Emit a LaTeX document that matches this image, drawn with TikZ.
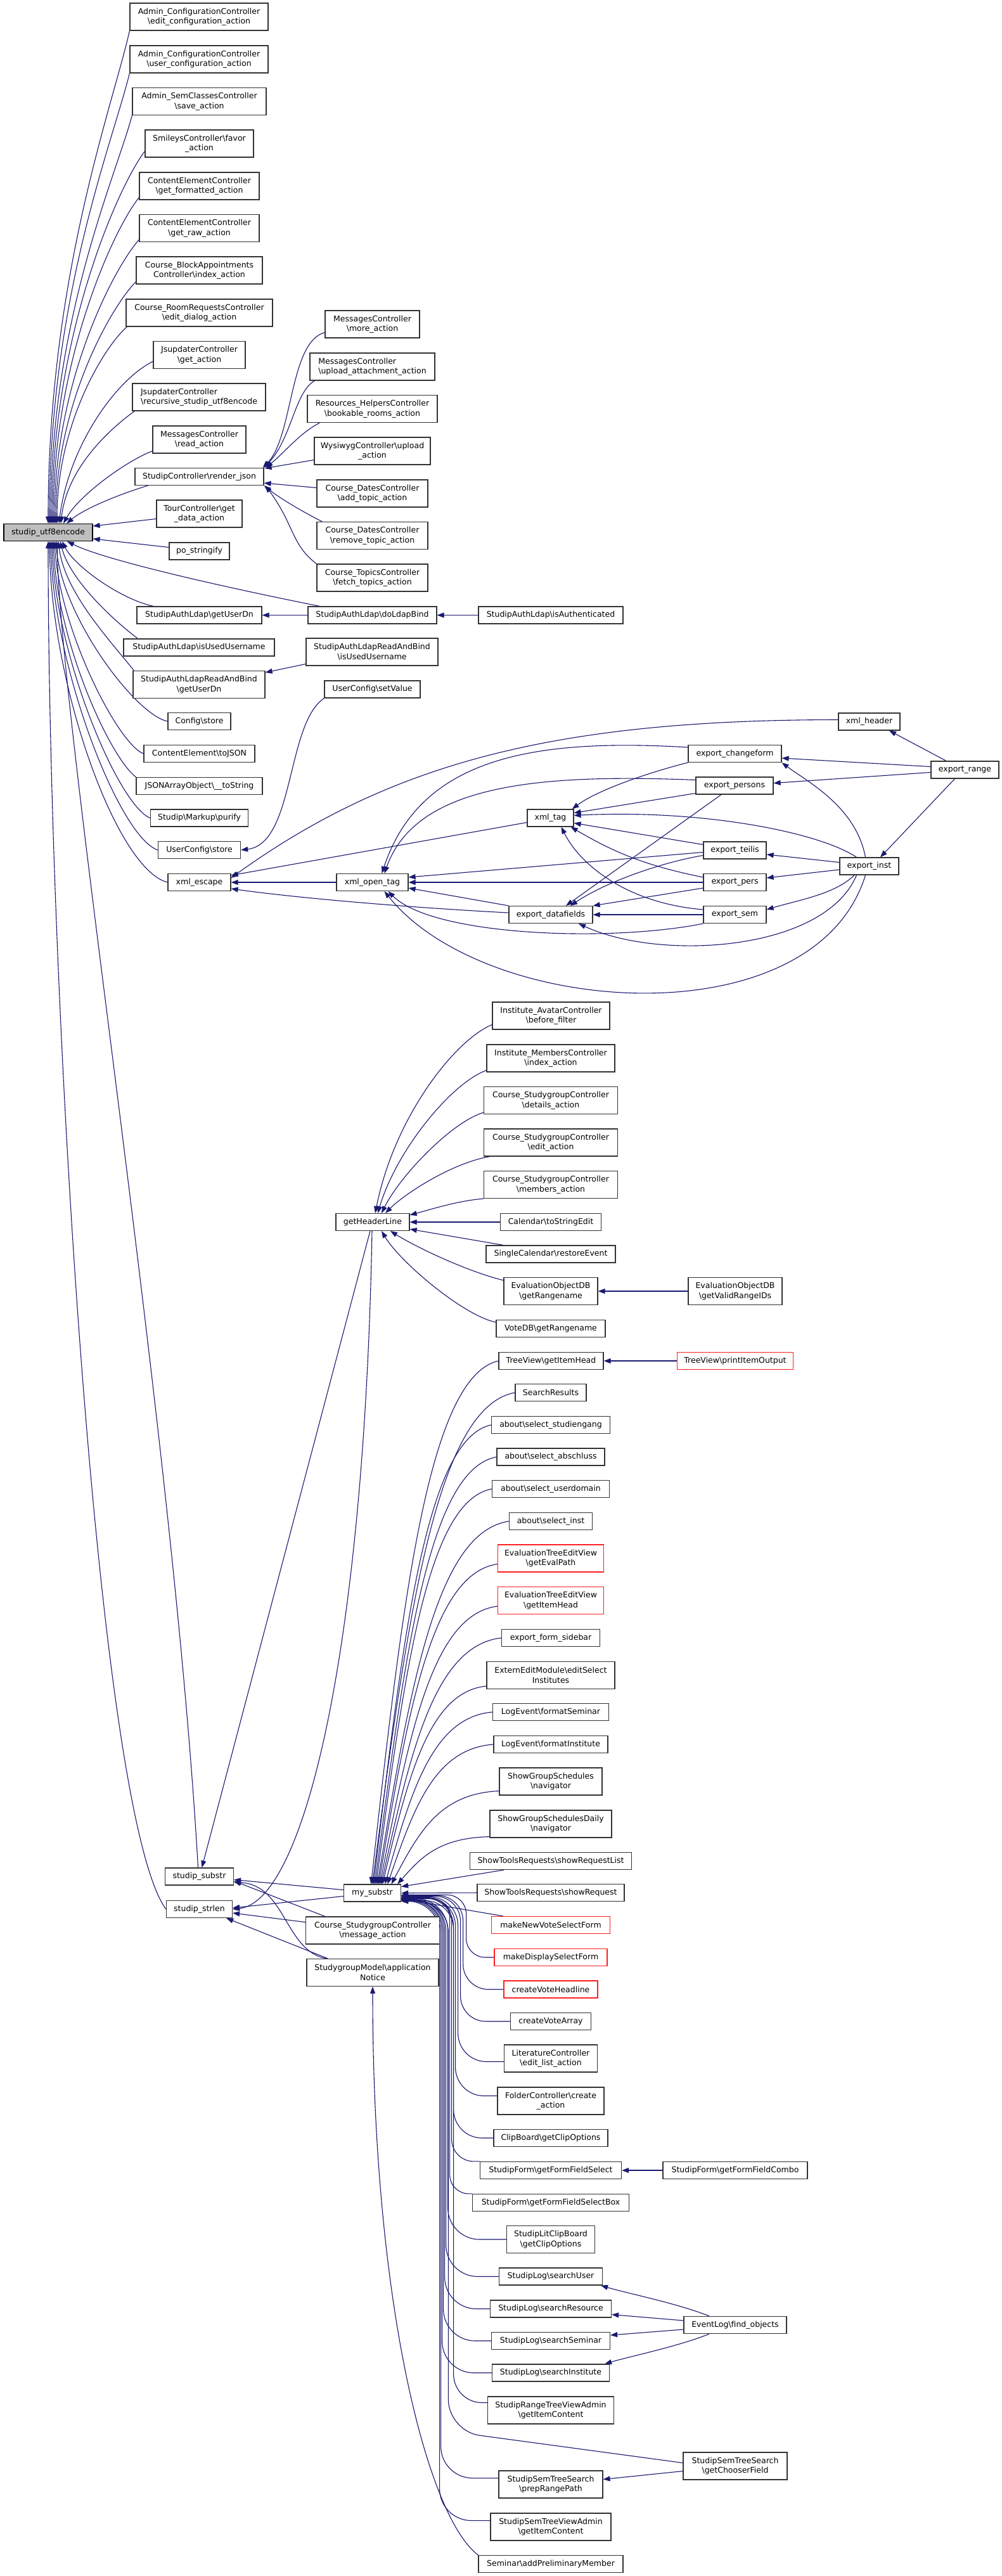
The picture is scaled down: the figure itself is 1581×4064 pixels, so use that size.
\documentclass[tikz,border=0pt]{standalone}
\usepackage{fontspec}
\setmainfont{DejaVu Sans}
\usetikzlibrary{arrows.meta}
\definecolor{edgeblue}{HTML}{191970}
\definecolor{nodeborder}{HTML}{333333}
\definecolor{rootgrey}{HTML}{BFBFBF}
\definecolor{nodered}{HTML}{FF2020}
\newcommand\bs{\textbackslash}
\newcommand\fs{\fontsize{12.5}{15.5}\selectfont}
\pgfdeclarelayer{back}
\pgfdeclarelayer{edges}
\pgfsetlayers{back,edges,main}
\tikzset{
  box/.style={draw=nodeborder, line width=1.2pt, fill=white, rectangle, inner sep=2pt,
    align=center, font=\fs, minimum height=27pt},
  two/.style={minimum height=43pt},
  redbox/.style={draw=nodered},
  rootbox/.style={fill=rootgrey, draw=black},
  dep/.style={draw=edgeblue, line width=1.1pt, -{Triangle[length=11pt,width=8pt]}},
}
\begin{document}
\begin{tikzpicture}[x=1pt,y=-1pt]
\begin{pgfonlayer}{back}
\fill[white] (0,0) rectangle (1581,4064);
\end{pgfonlayer}
\useasboundingbox (0,0) rectangle (1581,4064);

% ---------- column 1 (top) ----------
\node[box,two,minimum width=218pt] (aEdit) at (314,26.5) {Admin\_ConfigurationController\\\bs edit\_configuration\_action};
\node[box,two,minimum width=218pt] (aUser) at (314,93.5) {Admin\_ConfigurationController\\\bs user\_configuration\_action};
\node[box,two,minimum width=211pt] (aSem) at (314.5,160) {Admin\_SemClassesController\\\bs save\_action};
\node[box,two,minimum width=171pt] (smiley) at (314.5,226.5) {SmileysController\bs favor\\\_action};
\node[box,two,minimum width=189pt] (ceFmt) at (314.5,293.5) {ContentElementController\\\bs get\_formatted\_action};
\node[box,two,minimum width=189pt] (ceRaw) at (314.5,360) {ContentElementController\\\bs get\_raw\_action};
\node[box,two,minimum width=199pt] (block) at (314.5,426.5) {Course\_BlockAppointments\\Controller\bs index\_action};
\node[box,two,minimum width=231pt] (room) at (314.5,493.5) {Course\_RoomRequestsController\\\bs edit\_dialog\_action};
\node[box,two,minimum width=145pt] (jsGet) at (314.5,560) {JsupdaterController\\\bs get\_action};
\node[box,two,minimum width=210pt,align=left] (jsRec) at (314,626.5) {JsupdaterController\\\bs recursive\_studip\_utf8encode};
\node[box,two,minimum width=147pt] (msgRead) at (314.5,693.5) {MessagesController\\\bs read\_action};
\node[box,minimum width=203pt] (render) at (314.5,752) {StudipController\bs render\_json};
\node[box,two,minimum width=135pt] (tour) at (314.5,810.5) {TourController\bs get\\\_data\_action};
\node[box,rootbox,minimum width=140pt] (root) at (76,840) {studip\_utf8encode};
\node[box,minimum width=95pt] (po) at (314.5,869.5) {po\_stringify};
\node[box,minimum width=197pt] (ldapUser) at (314.5,970.5) {StudipAuthLdap\bs getUserDn};
\node[box,minimum width=238pt] (ldapUsed) at (314,1021.5) {StudipAuthLdap\bs isUsedUsername};
\node[box,two,minimum width=208pt] (rabUser) at (314,1080) {StudipAuthLdapReadAndBind\\\bs getUserDn};
\node[box,minimum width=99pt] (cfgStore) at (314.5,1138) {Config\bs store};
\node[box,minimum width=175pt] (toJSON) at (314.5,1189) {ContentElement\bs toJSON};
\node[box,minimum width=199pt] (jsonArr) at (314.5,1240) {JSONArrayObject\bs \_\_toString};
\node[box,minimum width=154pt] (purify) at (314.5,1290.5) {Studip\bs Markup\bs purify};
\node[box,minimum width=130pt] (ucStore) at (314.5,1341) {UserConfig\bs store};
\node[box,minimum width=99pt] (xmlEsc) at (314.5,1392) {xml\_escape};

% ---------- column 2 (top) ----------
\node[box,two,minimum width=149pt] (msgMore) at (587.5,511.5) {MessagesController\\\bs more\_action};
\node[box,two,minimum width=197pt,align=left] (msgUp) at (587.5,578.5) {MessagesController\\\bs upload\_attachment\_action};
\node[box,two,minimum width=205pt] (resBook) at (587.5,645) {Resources\_HelpersController\\\bs bookable\_rooms\_action};
\node[box,two,minimum width=183pt] (wysi) at (587.5,711.5) {WysiwygController\bs upload\\\_action};
\node[box,two,minimum width=175pt] (datesAdd) at (587.5,778.5) {Course\_DatesController\\\bs add\_topic\_action};
\node[box,two,minimum width=175pt] (datesRem) at (587.5,845) {Course\_DatesController\\\bs remove\_topic\_action};
\node[box,two,minimum width=175pt] (topics) at (587.5,911.5) {Course\_TopicsController\\\bs fetch\_topics\_action};
\node[box,minimum width=203pt] (doLdap) at (587.5,970.5) {StudipAuthLdap\bs doLdapBind};
\node[box,two,minimum width=208pt] (rabUsed) at (587,1028.5) {StudipAuthLdapReadAndBind\\\bs isUsedUsername};
\node[box,minimum width=151pt] (ucSet) at (587.5,1087.5) {UserConfig\bs setValue};
\node[box,minimum width=113pt] (xmlOpen) at (587.5,1392) {xml\_open\_tag};

% ---------- export cluster ----------
\node[box,minimum width=228pt] (ldapAuth) at (869,970.5) {StudipAuthLdap\bs isAuthenticated};
\node[box,minimum width=73pt] (xmlTag) at (868.5,1290.5) {xml\_tag};
\node[box,minimum width=132pt] (exData) at (869,1443) {export\_datafields};
\node[box,minimum width=147pt] (exChange) at (1159.5,1189) {export\_changeform};
\node[box,minimum width=122pt] (exPersons) at (1159,1239.5) {export\_persons};
\node[box,minimum width=99pt] (exTeilis) at (1159.5,1341.5) {export\_teilis};
\node[box,minimum width=99pt] (exPers) at (1159.5,1392) {export\_pers};
\node[box,minimum width=99pt] (exSem) at (1159.5,1443) {export\_sem};
\node[box,minimum width=97pt] (xmlHead) at (1371.5,1138.5) {xml\_header};
\node[box,minimum width=93pt] (exInst) at (1371.5,1366.5) {export\_inst};
\node[box,minimum width=107pt] (exRange) at (1522.5,1214.5) {export\_range};

% ---------- getHeaderLine group ----------
\node[box,minimum width=116pt] (ghl) at (588,1928) {getHeaderLine};
\node[box,two,minimum width=185pt] (instAv) at (869.5,1602.5) {Institute\_AvatarController\\\bs before\_filter};
\node[box,two,minimum width=202pt] (instMem) at (869,1669.5) {Institute\_MembersController\\\bs index\_action};
\node[box,two,minimum width=211pt] (csDet) at (869,1736) {Course\_StudygroupController\\\bs details\_action};
\node[box,two,minimum width=211pt] (csEdit) at (869,1802.5) {Course\_StudygroupController\\\bs edit\_action};
\node[box,two,minimum width=211pt] (csMem) at (869,1869) {Course\_StudygroupController\\\bs members\_action};
\node[box,minimum width=159pt] (calStr) at (869,1928) {Calendar\bs toStringEdit};
\node[box,minimum width=204pt] (singleCal) at (869,1978.5) {SingleCalendar\bs restoreEvent};
\node[box,two,minimum width=148pt] (evalRange) at (869,2037) {EvaluationObjectDB\\\bs getRangename};
\node[box,two,minimum width=148pt] (evalValid) at (1160,2037) {EvaluationObjectDB\\\bs getValidRangeIDs};
\node[box,minimum width=172pt] (voteDB) at (869,2096) {VoteDB\bs getRangename};

% ---------- my_substr group ----------
\node[box,minimum width=165pt] (tvHead) at (869.5,2147) {TreeView\bs getItemHead};
\node[box,redbox,minimum width=183pt] (tvPrint) at (1160,2147) {TreeView\bs printItemOutput};
\node[box,minimum width=112pt] (searchRes) at (869,2197) {SearchResults};
\node[box,minimum width=187pt] (selStud) at (869,2248) {about\bs select\_studiengang};
\node[box,minimum width=170pt] (selAbs) at (869,2298.5) {about\bs select\_abschluss};
\node[box,minimum width=185pt] (selUser) at (869,2349) {about\bs select\_userdomain};
\node[box,minimum width=131pt] (selInst) at (869,2400) {about\bs select\_inst};
\node[box,two,redbox,minimum width=167pt] (etevPath) at (869,2458.5) {EvaluationTreeEditView\\\bs getEvalPath};
\node[box,two,redbox,minimum width=167pt] (etevHead) at (869,2525) {EvaluationTreeEditView\\\bs getItemHead};
\node[box,minimum width=155pt] (exSide) at (869,2584) {export\_form\_sidebar};
\node[box,two,minimum width=202pt] (extern) at (869,2643) {ExternEditModule\bs editSelect\\Institutes};
\node[box,minimum width=183pt] (logSem) at (869,2701) {LogEvent\bs formatSeminar};
\node[box,minimum width=180pt] (logInst) at (869,2752) {LogEvent\bs formatInstitute};
\node[box,two,minimum width=162pt] (sgs) at (869,2810.5) {ShowGroupSchedules\\\bs navigator};
\node[box,two,minimum width=192pt] (sgsd) at (869,2877.5) {ShowGroupSchedulesDaily\\\bs navigator};
\node[box,minimum width=255pt] (strList) at (869,2936) {ShowToolsRequests\bs showRequestList};
\node[box,minimum width=232pt] (str) at (869,2986) {ShowToolsRequests\bs showRequest};
\node[box,redbox,minimum width=187pt] (makeNew) at (869,3037) {makeNewVoteSelectForm};
\node[box,redbox,minimum width=178pt] (makeDisp) at (869,3088) {makeDisplaySelectForm};
\node[box,redbox,minimum width=148pt] (createHead) at (869,3138.5) {createVoteHeadline};
\node[box,minimum width=127pt] (createArr) at (869,3189) {createVoteArray};
\node[box,two,minimum width=147pt] (lit) at (869,3247.5) {LiteratureController\\\bs edit\_list\_action};
\node[box,two,minimum width=168pt] (folder) at (869,3314.5) {FolderController\bs create\\\_action};
\node[box,minimum width=180pt] (clip) at (869,3373) {ClipBoard\bs getClipOptions};
\node[box,minimum width=223pt] (ffSel) at (869,3424) {StudipForm\bs getFormFieldSelect};
\node[box,minimum width=228pt] (ffCombo) at (1160,3424) {StudipForm\bs getFormFieldCombo};
\node[box,minimum width=247pt] (ffSelBox) at (869,3475) {StudipForm\bs getFormFieldSelectBox};
\node[box,two,minimum width=139pt] (litClip) at (869,3533) {StudipLitClipBoard\\\bs getClipOptions};
\node[box,minimum width=163pt] (logUser) at (869,3591.5) {StudipLog\bs searchUser};
\node[box,minimum width=191pt] (logRes) at (869,3642.5) {StudipLog\bs searchResource};
\node[box,minimum width=187pt] (logSemi) at (869,3693) {StudipLog\bs searchSeminar};
\node[box,minimum width=185pt] (logInsti) at (869,3743.5) {StudipLog\bs searchInstitute};
\node[box,minimum width=162pt] (findObj) at (1160,3668) {EventLog\bs find\_objects};
\node[box,two,minimum width=199pt] (rangeTV) at (869,3802.5) {StudipRangeTreeViewAdmin\\\bs getItemContent};
\node[box,two,minimum width=164pt] (chooser) at (1160,3890.5) {StudipSemTreeSearch\\\bs getChooserField};
\node[box,two,minimum width=164pt] (prepRange) at (869,3919.5) {StudipSemTreeSearch\\\bs prepRangePath};
\node[box,two,minimum width=190pt] (semTV) at (869,3986.5) {StudipSemTreeViewAdmin\\\bs getItemContent};
\node[box,minimum width=228pt] (addPrelim) at (869,4045) {Seminar\bs addPreliminaryMember};

\node[box,minimum width=108pt] (sub) at (314.5,2960.5) {studip\_substr};
\node[box,minimum width=104pt] (strlen) at (314.5,3012) {studip\_strlen};
\node[box,minimum width=90pt] (my) at (587.5,2986.5) {my\_substr};
\node[box,two,minimum width=211pt] (csMsg) at (588,3045.5) {Course\_StudygroupController\\\bs message\_action};
\node[box,two,minimum width=208pt] (sgModel) at (588,3112) {StudygroupModel\bs application\\Notice};

\begin{pgfonlayer}{edges}
% ---- into studip_utf8encode, from above ----
\draw[dep] (aEdit.south west) .. controls +(-26,117) and +(0,-389) .. (root.north);
\draw[dep] (aUser.south west) .. controls +(-26,107) and +(0,-356) .. ([xshift=2pt]root.north);
\draw[dep] (aSem.south west) .. controls +(-26,97) and +(0,-322) .. ([xshift=4pt]root.north);
\draw[dep] ([yshift=10pt]smiley.south west) .. controls +(-44,59) and +(0,-294) .. ([xshift=6pt]root.north);
\draw[dep] ([yshift=4pt]ceFmt.south west) .. controls +(-41,51) and +(0,-257) .. ([xshift=8pt]root.north);
\draw[dep] ([yshift=4pt]ceRaw.south west) .. controls +(-40,45) and +(0,-224) .. ([xshift=10pt]root.north);
\draw[dep] ([yshift=4pt]block.south west) .. controls +(-38,38) and +(0,-190) .. ([xshift=12pt]root.north);
\draw[dep] ([xshift=2pt]room.south west) .. controls +(-36,31) and +(0,-157) .. ([xshift=14pt]root.north);
\draw[dep] ([yshift=12pt]jsGet.south west) .. controls +(-60,30) and +(15,-120) .. ([xshift=17pt]root.north);
\draw[dep] ([xshift=4pt]jsRec.south west) .. controls +(-35,25) and +(10,-90) .. ([xshift=20pt]root.north);
\draw[dep] ([yshift=4pt]msgRead.south west) .. controls +(-40,15) and +(25,-45) .. ([xshift=24pt]root.north);
\draw[dep] ([xshift=21pt]render.south west) .. controls +(-40,12) and +(30,-25) .. ([xshift=29pt]root.north);
% ---- into studip_utf8encode, right side ----
\draw[dep] ([yshift=-8pt]tour.west) -- ([yshift=10pt]root.east);
\draw[dep] ([yshift=6pt]po.west) -- ([yshift=-10pt]root.east);
% ---- into studip_utf8encode, from below ----
\draw[dep] ([xshift=19pt]doLdap.north west) .. controls +(-150,-30) and +(60,30) .. ([xshift=30pt]root.south);
\draw[dep] ([xshift=27pt]ldapUser.north west) .. controls +(-50,-10) and +(20,40) .. ([xshift=22pt]root.south);
\draw[dep] ([xshift=23pt]ldapUsed.north west) .. controls +(-40,-30) and +(15,60) .. ([xshift=19pt]root.south);
\draw[dep] ([xshift=2pt]rabUser.north west) .. controls +(-40,-50) and +(10,80) .. ([xshift=16pt]root.south);
\draw[dep] (cfgStore.west) .. controls +(-50,-10) and +(10,120) .. ([xshift=12pt]root.south);
\draw[dep] (toJSON.west) .. controls +(-40,-15) and +(8,140) .. ([xshift=10pt]root.south);
\draw[dep] (jsonArr.north west) .. controls +(-40,-30) and +(6,160) .. ([xshift=8pt]root.south);
\draw[dep] (purify.west) .. controls +(-50,-20) and +(5,180) .. ([xshift=6pt]root.south);
\draw[dep] (ucStore.west) .. controls +(-60,-20) and +(4,200) .. ([xshift=4pt]root.south);
\draw[dep] (xmlEsc.west) .. controls +(-80,-20) and +(3,230) .. ([xshift=2pt]root.south);
\draw[dep] ([xshift=-2pt]sub.north) .. controls +(-40,-700) and +(5,300) .. ([xshift=14pt]root.south);
\draw[dep] (strlen.west) .. controls +(-110,-150) and +(0,700) .. (root.south);

% ---- render_json ----
\draw[dep] ([yshift=-13pt]msgMore.west) .. controls +(-56,15) and +(48,-49) .. ([xshift=-2pt]render.north east);
\draw[dep] ([xshift=8pt]msgUp.south west) .. controls +(-32,19) and +(44,-47) .. (render.north east);
\draw[dep] ([xshift=20pt]resBook.south west) .. controls +(-30,15) and +(30,-25) .. ([xshift=3pt]render.north east);
\draw[dep] ([yshift=8pt]wysi.south west) -- ([xshift=1pt,yshift=-1pt]render.north east);
\draw[dep] ([yshift=9pt]datesAdd.west) -- ([yshift=-10pt]render.east);
\draw[dep] ([xshift=9pt]datesRem.north west) .. controls +(-30,-15) and +(25,20) .. (render.south east);
\draw[dep] (topics.north west) .. controls +(-40,-30) and +(45,60) .. ([xshift=2pt]render.south east);

% ---- ldap / config ----
\draw[dep] (doLdap.west) -- (ldapUser.east);
\draw[dep] (ldapAuth.west) -- (doLdap.east);
\draw[dep] ([yshift=-19pt]rabUsed.west) -- ([yshift=-3pt]rabUser.north east);
\draw[dep] (ucSet.south west) .. controls +(-60,40) and +(85,-10) .. (ucStore.east);

% ---- xml_escape ----
\draw[dep] (xmlOpen.west) -- (xmlEsc.east);
\draw[dep] ([yshift=3pt]xmlHead.west) .. controls +(-450,0) and +(250,-180) .. ([yshift=7pt]xmlEsc.east);
\draw[dep] ([yshift=-7pt]xmlTag.west) -- ([yshift=11pt]xmlEsc.east);
\draw[dep] ([yshift=3pt]exData.west) .. controls +(-153,-8) and +(106,15) .. ([yshift=-10pt]xmlEsc.east);

% ---- xml_open_tag ----
\draw[dep] ([yshift=10pt]exChange.west) .. controls +(-250,-15) and +(60,-180) .. ([xshift=15pt]xmlOpen.north);
\draw[dep] ([yshift=9pt]exPersons.west) .. controls +(-250,-10) and +(50,-140) .. ([xshift=19pt]xmlOpen.north);
\draw[dep] ([yshift=-3pt]exTeilis.west) -- ([yshift=8pt]xmlOpen.east);
\draw[dep] (exPers.west) -- (xmlOpen.east);
\draw[dep] (exData.north west) -- ([yshift=-9pt]xmlOpen.east);
\draw[dep] (exSem.south west) .. controls +(-150,30) and +(70,70) .. ([xshift=25pt]xmlOpen.south);
\draw[dep] ([xshift=-6pt]exInst.south) .. controls +(-80,260) and +(160,200) .. ([xshift=19pt]xmlOpen.south);

% ---- xml_tag ----
\draw[dep] (exChange.south west) .. controls +(-60,15) and +(40,-30) .. ([xshift=-3pt]xmlTag.north east);
\draw[dep] ([yshift=-12pt]exPersons.west) -- ([yshift=8pt]xmlTag.east);
\draw[dep] ([xshift=-20pt]exInst.north) .. controls +(-60,-40) and +(200,-10) .. ([yshift=4pt]xmlTag.east);
\draw[dep] ([yshift=9pt]exTeilis.west) -- ([yshift=-8pt]xmlTag.east);
\draw[dep] ([yshift=8pt]exPers.west) .. controls +(-100,-20) and +(60,35) .. ([xshift=-5pt]xmlTag.south east);
\draw[dep] ([yshift=8pt]exSem.west) .. controls +(-120,-10) and +(30,60) .. ([xshift=17pt]xmlTag.south);

% ---- export_datafields ----
\draw[dep] ([xshift=-21pt]exPersons.south) -- ([xshift=24pt]exData.north);
\draw[dep] ([yshift=-8pt]exTeilis.west) .. controls +(-60,10) and +(60,-40) .. ([xshift=31pt]exData.north);
\draw[dep] ([yshift=-9pt]exPers.west) -- (exData.north east);
\draw[dep] (exSem.west) -- (exData.east);
\draw[dep] ([xshift=-20pt]exInst.south) .. controls +(-50,120) and +(130,60) .. ([xshift=44pt]exData.south);

% ---- export_range / export_inst ----
\draw[dep] ([yshift=5pt]exRange.west) -- ([yshift=-7pt]exChange.east);
\draw[dep] ([xshift=-6pt]exInst.north) .. controls +(-15,-80) and +(40,30) .. (exChange.south east);
\draw[dep] ([yshift=-4pt]exRange.west) -- ([yshift=4pt]exPersons.east);
\draw[dep] ([xshift=-29.5pt]exRange.north) -- ([xshift=31.5pt]xmlHead.south);
\draw[dep] ([xshift=-16pt]exRange.south) -- ([xshift=17.5pt]exInst.north);
\draw[dep] ([yshift=6pt]exInst.west) -- ([yshift=-6.5pt]exTeilis.east);
\draw[dep] ([yshift=-5.5pt]exInst.west) -- ([yshift=7pt]exPers.east);
\draw[dep] ([xshift=-23.5pt]exInst.south) .. controls +(-30,30) and +(50,-15) .. ([yshift=8pt]exSem.east);

% ---- getHeaderLine ----
\draw[dep] ([yshift=-14pt]instAv.west) .. controls +(-60,25) and +(30,-150) .. ([xshift=4pt]ghl.north);
\draw[dep] ([yshift=3pt]instMem.south west) .. controls +(-55,20) and +(30,-100) .. ([xshift=8pt]ghl.north);
\draw[dep] ([yshift=3pt]csDet.south west) .. controls +(-50,15) and +(30,-60) .. ([xshift=14pt]ghl.north);
\draw[dep] ([xshift=10pt]csEdit.south west) .. controls +(-60,10) and +(30,-30) .. ([xshift=20pt]ghl.north);
\draw[dep] (csMem.south west) .. controls +(-40,3) and +(30,-8) .. ([yshift=-3pt]ghl.north east);
\draw[dep] (calStr.west) -- (ghl.east);
\draw[dep] ([xshift=28pt]singleCal.north west) -- ([yshift=3pt]ghl.south east);
\draw[dep] ([yshift=-5pt]evalRange.north west) .. controls +(-60,-15) and +(40,25) .. ([xshift=28pt]ghl.south);
\draw[dep] ([yshift=10pt]voteDB.west) .. controls +(-50,-10) and +(30,50) .. ([xshift=14pt]ghl.south);
\draw[dep] (evalValid.west) -- (evalRange.east);
\draw[dep] (tvPrint.west) -- (tvHead.east);
\draw[dep] ([xshift=-4pt]ghl.south) -- ([xshift=4pt]sub.north);
\draw[dep] ([xshift=-1pt]ghl.south) .. controls +(-12,659) and +(113,-12) .. (strlen.east);

% ---- studip_substr / studip_strlen ----
\draw[dep] ([yshift=5pt]my.west) -- ([yshift=-5pt]sub.east);
\draw[dep] ([yshift=-5pt]my.west) -- ([yshift=2pt]strlen.east);
\draw[dep] ([xshift=31pt]csMsg.north west) -- ([yshift=-7pt]sub.east);
\draw[dep] ([yshift=13pt]csMsg.west) -- ([yshift=-6pt]strlen.east);
\draw[dep] ([xshift=32pt]sgModel.north west) .. controls +(-66,-11) and +(82,4) .. ([yshift=-9pt]sub.east);
\draw[dep] ([xshift=34pt]sgModel.north west) -- ([xshift=-10pt]strlen.south east);
\draw[dep] (addPrelim.north west) .. controls +(-80,-60) and +(0,500) .. (sgModel.south);

% ---- my_substr, upper fan ----
\draw[dep] (tvHead.west) .. controls +(-110,25) and +(50,-454) .. ([xshift=-2pt]my.north);
\draw[dep] (searchRes.west) .. controls +(-124,23) and +(56,-427) .. (my.north);
\draw[dep] (selStud.west) .. controls +(-102,22) and +(47,-399) .. ([xshift=2pt]my.north);
\draw[dep] (selAbs.west) .. controls +(-106,20) and +(48,-371) .. ([xshift=4pt]my.north);
\draw[dep] (selUser.west) .. controls +(-101,19) and +(46,-343) .. ([xshift=6pt]my.north);
\draw[dep] (selInst.west) .. controls +(-114,17) and +(52,-315) .. ([xshift=8pt]my.north);
\draw[dep] ([yshift=-9pt]etevPath.west) .. controls +(-103,15) and +(47,-278) .. ([xshift=10pt]my.north);
\draw[dep] ([yshift=-9pt]etevHead.west) .. controls +(-102,13) and +(47,-241) .. ([xshift=12pt]my.north);
\draw[dep] (exSide.west) .. controls +(-104,12) and +(47,-214) .. ([xshift=14pt]my.north);
\draw[dep] ([yshift=-17pt]extern.west) .. controls +(-90,9) and +(41,-172) .. ([xshift=16pt]my.north);
\draw[dep] (logSem.west) .. controls +(-93,8) and +(42,-150) .. ([xshift=20pt]my.north);
\draw[dep] (logInst.west) .. controls +(-92,7) and +(42,-122) .. ([xshift=24pt]my.north);
\draw[dep] ([yshift=-15pt]sgs.west) .. controls +(-94,4) and +(43,-81) .. ([xshift=30pt]my.north);
\draw[dep] ([yshift=2pt]sgsd.south west) .. controls +(-80,2) and +(37,-42) .. ([xshift=-6pt]my.north east);
\draw[dep] ([xshift=54pt]strList.south west) -- ([yshift=-4pt]my.north east);
\draw[dep] (str.west) -- (my.east);
\draw[dep] ([xshift=19pt]makeNew.north west) -- ([yshift=-9pt]my.east);

% ---- my_substr, lower fan ----
\draw[dep,rounded corners=30pt] (makeDisp.west) -| ([xshift=102.5pt,yshift=-3pt]my.east) -- ([yshift=-3pt]my.east);
\draw[dep,rounded corners=40pt] (createHead.west) -| ([xshift=97.5pt,yshift=-4pt]my.east) -- ([yshift=-4pt]my.east);
\draw[dep,rounded corners=40pt] (createArr.west) -| ([xshift=93.5pt,yshift=-5pt]my.east) -- ([yshift=-5pt]my.east);
\draw[dep,rounded corners=45pt] ([yshift=-5pt]lit.west) -| ([xshift=89.5pt,yshift=-6pt]my.east) -- ([yshift=-6pt]my.east);
\draw[dep,rounded corners=45pt] ([yshift=8pt]folder.west) -| ([xshift=85.5pt,yshift=-7pt]my.east) -- ([yshift=-7pt]my.east);
\draw[dep,rounded corners=45pt] (clip.west) -| ([xshift=82.5pt,yshift=-8pt]my.east) -- ([yshift=-8pt]my.east);
\draw[dep,rounded corners=35pt] (ffSel.north west) -| ([xshift=79.5pt,yshift=-8pt]my.east) -- ([yshift=-8pt]my.east);
\draw[dep,rounded corners=30pt] (ffSelBox.north west) -| ([xshift=76.5pt,yshift=-9pt]my.east) -- ([yshift=-9pt]my.east);
\draw[dep,rounded corners=50pt] (litClip.west) -| ([xshift=73.5pt,yshift=-9pt]my.east) -- ([yshift=-9pt]my.east);
\draw[dep,rounded corners=50pt] (logUser.west) -| ([xshift=70.5pt,yshift=-10pt]my.east) -- ([yshift=-10pt]my.east);
\draw[dep,rounded corners=50pt] (logRes.west) -| ([xshift=68.5pt,yshift=-10pt]my.east) -- ([yshift=-10pt]my.east);
\draw[dep,rounded corners=50pt] (logSemi.west) -| ([xshift=66.5pt,yshift=-11pt]my.east) -- ([yshift=-11pt]my.east);
\draw[dep,rounded corners=50pt] (logInsti.west) -| ([xshift=64.5pt,yshift=-11pt]my.east) -- ([yshift=-11pt]my.east);
\draw[dep,rounded corners=45pt] ([yshift=12pt]rangeTV.west) -| ([xshift=82.5pt,yshift=-12pt]my.east) -- ([yshift=-12pt]my.east);
\draw[dep,rounded corners=50pt] ([yshift=5pt]chooser.west) -- ++(-370,-50) |- ([yshift=-12pt]my.east);
\draw[dep,rounded corners=50pt] ([yshift=10pt]prepRange.west) -| ([xshift=62.5pt,yshift=-12pt]my.east) -- ([yshift=-12pt]my.east);
\draw[dep,rounded corners=50pt] ([yshift=10pt]semTV.west) -| ([xshift=60.5pt,yshift=-13pt]my.east) -- ([yshift=-13pt]my.east);

% ---- remaining ----
\draw[dep] ([yshift=-8pt]chooser.west) -- ([yshift=8pt]prepRange.east);
\draw[dep] (ffCombo.west) -- (ffSel.east);
\draw[dep] ([xshift=-41pt]findObj.north) .. controls +(-50,-20) and +(40,12) .. ([xshift=-3pt]logUser.south east);
\draw[dep] ([yshift=7pt]findObj.west) -- ([yshift=-9pt]logRes.east);
\draw[dep] ([yshift=-7pt]findObj.west) -- ([yshift=9pt]logSemi.east);
\draw[dep] ([xshift=-41pt]findObj.south) .. controls +(-50,20) and +(40,-12) .. ([xshift=-8pt]logInsti.north east);
\end{pgfonlayer}
\end{tikzpicture}
\end{document}
